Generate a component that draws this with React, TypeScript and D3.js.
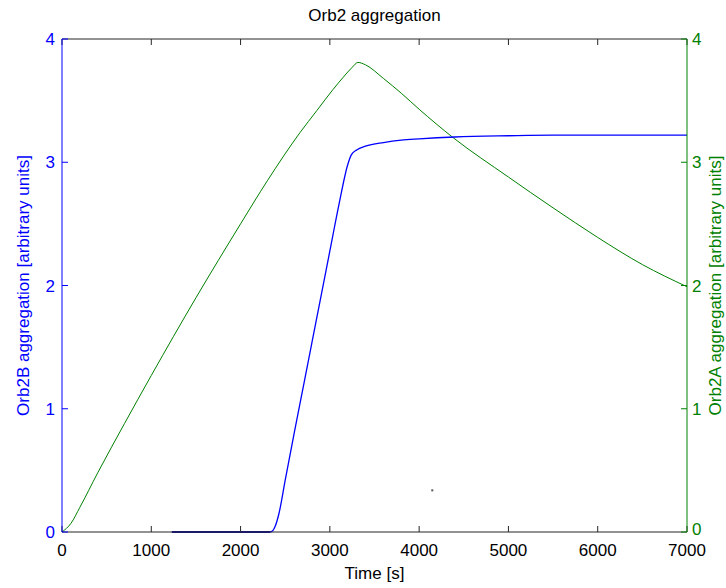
import React from "react";
import * as d3 from "d3";

const blueTimes = [1230, 2330, 2360, 2390, 2430, 2500, 2600, 2700, 2800, 2900, 3000, 3100, 3200, 3240, 3300, 3400, 3600, 3800, 4000, 4400, 5000, 5500, 7000];
const blueValues = [0, 0, 0.01, 0.05, 0.15, 0.42, 0.8, 1.17, 1.54, 1.91, 2.28, 2.65, 2.98, 3.06, 3.1, 3.13, 3.16, 3.18, 3.19, 3.205, 3.215, 3.22, 3.22];
const darkTimes = [1230, 2330];
const darkValues = [0, 0];
const greenTimes = [0, 100, 200, 400, 700, 1000, 1500, 2000, 2300, 2665, 2855, 3035, 3150, 3250, 3315, 3400, 3600, 3800, 4000, 4380, 5000, 5500, 6000, 6500, 7000];
const greenValues = [0, 0.07, 0.2, 0.48, 0.88, 1.27, 1.9, 2.5, 2.85, 3.24, 3.42, 3.59, 3.69, 3.77, 3.81, 3.79, 3.68, 3.56, 3.43, 3.2, 2.88, 2.63, 2.39, 2.17, 1.99];
const strayPoint = [4147, 0.338];
const xTicks = [0, 1000, 2000, 3000, 4000, 5000, 6000, 7000];
const yTicks = [0, 1, 2, 3, 4];

const W = 726, H = 588;
const L = 62, R = 687, T = 39, B = 532;
const BLUE = "#0000ff";
const GREEN = "#008000";
const AX = "#262626";
const FONT = "Arial, 'Liberation Sans', Helvetica, sans-serif";

export default function App() {
  const x = d3.scaleLinear().domain([0, 7000]).range([L, R]);
  const yl = d3.scaleLinear().domain([0, 4]).range([B, T]);
  const yr = d3.scaleLinear().domain([0, 4]).range([B, T]);
  const line = (ys: d3.ScaleLinear<number, number>) =>
    d3.line<[number, number]>().x((d) => x(d[0])).y((d) => ys(d[1])).curve(d3.curveMonotoneX);
  const blue = blueTimes.map((t, i) => [t, blueValues[i]] as [number, number]);
  const dark = darkTimes.map((t, i) => [t, darkValues[i]] as [number, number]);
  const green = greenTimes.map((t, i) => [t, greenValues[i]] as [number, number]);
  const fs = 17;
  return (
    <svg width={W} height={H} style={{ position: "absolute", left: 0, top: 0, background: "#fff" }} fontFamily={FONT}>
      <rect x={0} y={0} width={W} height={H} fill="#fff" />
      <path d={line(yr)(green) || ""} fill="none" stroke={GREEN} strokeWidth={1} />
      <path d={line(yl)(blue) || ""} fill="none" stroke={BLUE} strokeWidth={1.3} />
      <path d={line(yl)(dark) || ""} fill="none" stroke="#00008b" strokeWidth={1.5} />
      <rect x={x(strayPoint[0]) - 1} y={yl(strayPoint[1]) - 1} width={2} height={2} fill="#555" />
      {/* x axes */}
      <line x1={L} x2={R} y1={B} y2={B} stroke={AX} strokeWidth={1} />
      <line x1={L} x2={R} y1={T} y2={T} stroke={AX} strokeWidth={1} />
      {xTicks.map((t) => (
        <g key={"xt" + t}>
          <line x1={x(t)} x2={x(t)} y1={B} y2={B - 6} stroke={AX} />
          <line x1={x(t)} x2={x(t)} y1={T} y2={T + 6} stroke={AX} />
          <text x={x(t)} y={556} textAnchor="middle" fontSize={fs} fill="#000">{t}</text>
        </g>
      ))}
      {/* left axis */}
      <line x1={L} x2={L} y1={T} y2={B} stroke={BLUE} strokeWidth={1} />
      {yTicks.map((v) => (
        <g key={"yl" + v}>
          <line x1={L} x2={L + 6} y1={yl(v)} y2={yl(v)} stroke={BLUE} />
          <text x={55} y={yl(v)} dy="0.36em" textAnchor="end" fontSize={fs} fill={BLUE}>{v}</text>
        </g>
      ))}
      {/* right axis */}
      <line x1={R} x2={R} y1={T} y2={B} stroke={GREEN} strokeWidth={1} />
      {yTicks.map((v) => (
        <g key={"yr" + v}>
          <line x1={R} x2={R - 6} y1={yr(v)} y2={yr(v)} stroke={GREEN} />
          <text x={692} y={yr(v)} dy={v === 0 ? "0.2em" : "0.36em"} textAnchor="start" fontSize={fs} fill={GREEN}>{v}</text>
        </g>
      ))}
      <text x={(L + R) / 2} y={21} textAnchor="middle" fontSize={fs} fill="#000">Orb2 aggregation</text>
      <text x={(L + R) / 2} y={579} textAnchor="middle" fontSize={fs} fill="#000">Time [s]</text>
      <text transform={`translate(29,${(T + B) / 2}) rotate(-90)`} textAnchor="middle" fontSize={fs} fill={BLUE}>Orb2B aggregation [arbitrary units]</text>
      <text transform={`translate(721,${(T + B) / 2}) rotate(-90)`} textAnchor="middle" fontSize={fs} fill={GREEN}>Orb2A aggregation [arbitrary units]</text>
    </svg>
  );
}
